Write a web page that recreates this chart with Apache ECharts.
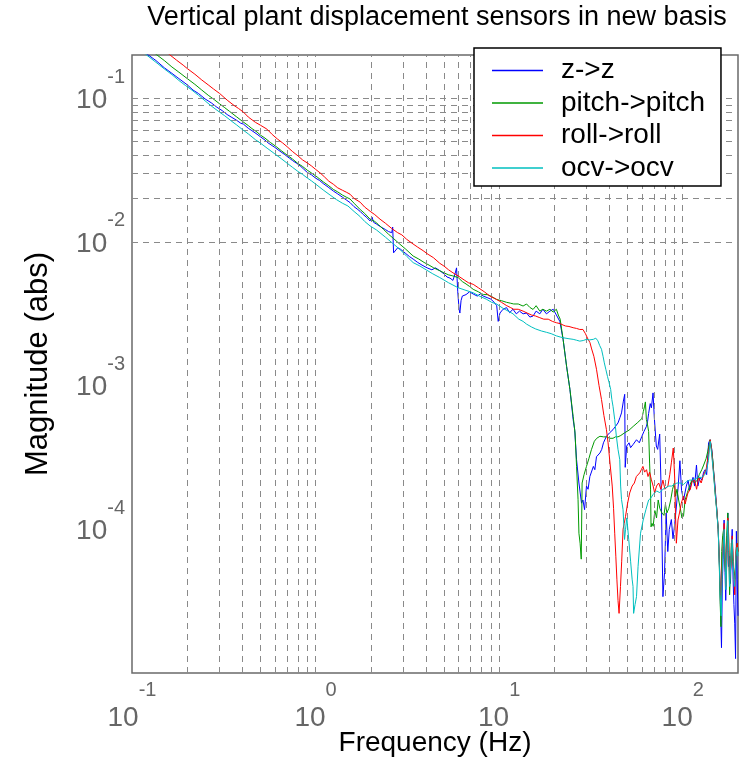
<!DOCTYPE html>
<html>
<head>
<meta charset="utf-8">
<script src="https://cdn.jsdelivr.net/npm/echarts@6/dist/echarts.min.js"></script>
<style>
  html, body { margin: 0; padding: 0; background: #fff; }
  #chart { width: 749px; height: 776px; }
</style>
</head>
<body>
<div id="chart"></div>
<script>
// Vertical plant displacement sensors: diagonal transfer magnitudes, [frequency Hz, |H|]
const seriesNames = ['z->z', 'pitch->pitch', 'roll->roll', 'ocv->ocv'];

const zToZ = [[0.1,0.247],[0.12,0.204],[0.135,0.183],[0.15,0.163],[0.165,0.149],[0.18,0.137],[0.2,0.124],[0.215,0.114],[0.23,0.108],[0.25,0.099],[0.27,0.093],[0.29,0.0866],[0.31,0.082],[0.33,0.077],[0.35,0.0735],[0.37,0.0705],[0.39,0.0672],[0.405,0.066],[0.43,0.0618],[0.45,0.0595],[0.48,0.0562],[0.5,0.054],[0.53,0.0512],[0.55,0.049],[0.58,0.0468],[0.6,0.0455],[0.64,0.0428],[0.68,0.0405],[0.72,0.0383],[0.75,0.0368],[0.79,0.0352],[0.823,0.0339],[0.86,0.0322],[0.9,0.0305],[0.95,0.0293],[1.0,0.0278],[1.05,0.0268],[1.1,0.0255],[1.17,0.0241],[1.25,0.0226],[1.32,0.0216],[1.4,0.0205],[1.47,0.0196],[1.54,0.0188],[1.62,0.0176],[1.7,0.0168],[1.75,0.0163],[1.82,0.0155],[1.9,0.0148],[1.98,0.0140],[2.03,0.0149],[2.07,0.0137],[2.15,0.0133],[2.25,0.0128],[2.4,0.0122],[2.5,0.0118],[2.6,0.0116],[2.63,0.0127],[2.66,0.0084],[2.7,0.0083],[2.8,0.0091],[2.9,0.0089],[3.0,0.0086],[3.1,0.0083],[3.25,0.0079],[3.4,0.0076],[3.6,0.0072],[3.8,0.0069],[4.05,0.0066],[4.3,0.0064],[4.5,0.0066],[4.76,0.0063],[5.0,0.006],[5.2,0.0057],[5.4,0.0056],[5.6,0.0054],[5.75,0.0060],[5.86,0.0066],[5.95,0.0045],[6.05,0.0034],[6.11,0.0032],[6.2,0.0039],[6.3,0.0042],[6.6,0.0043],[6.9,0.0045],[7.22,0.00434],[7.6,0.0042],[7.9,0.00435],[8.18,0.0042],[8.6,0.0041],[9.0,0.0040],[9.4,0.0038],[9.7,0.0036],[9.88,0.0028],[10.1,0.0032],[10.5,0.0034],[10.97,0.00349],[11.4,0.00322],[11.9,0.0034],[12.4,0.00316],[12.9,0.0033],[13.5,0.00316],[14.1,0.0032],[14.7,0.003],[15.3,0.00305],[15.9,0.0033],[16.65,0.00316],[17.3,0.0034],[18.1,0.00316],[18.9,0.0033],[19.7,0.0034],[20.5,0.0031],[21.0,0.0032],[21.4,0.0028],[22.3,0.0021],[23.3,0.00136],[24.3,0.00094],[25.3,0.00058],[25.8,0.00049],[26.4,0.000305],[27.2,0.00021],[28.1,0.000152],[28.6,0.00016],[29.2,0.000137],[29.9,0.0002],[30.5,0.00019],[31.2,0.000233],[32.6,0.000274],[33.2,0.00026],[33.9,0.00032],[35.4,0.00034],[36.2,0.00036],[37,0.0004],[38.4,0.000444],[39.2,0.00043],[40,0.00047],[41.7,0.000494],[43,0.00052],[44.4,0.00055],[45.5,0.0006],[46.4,0.000646],[47.5,0.00078],[48.3,0.00087],[48.6,0.00027],[49.5,0.00038],[51,0.0004],[52,0.00037],[53.7,0.00039],[56,0.00042],[58,0.0004],[59.9,0.000444],[61.5,0.00048],[63.4,0.00052],[64.3,0.00056],[65.2,0.00064],[66.5,0.00075],[67.5,0.0007],[68.9,0.00089],[70,0.0006],[71.8,0.00038],[73,0.00036],[74.9,0.00046],[76.3,0.000187],[78,0.000034],[79.6,0.00005],[81.2,0.00013],[82.9,0.00007],[84.5,0.0001],[86.7,0.000117],[88.5,0.000086],[90.5,0.00011],[92.3,0.000143],[94.5,0.0002],[96.5,0.0003],[98.5,0.000187],[101,0.00016],[104.6,0.0002],[107,0.00022],[109,0.000187],[111.5,0.00021],[113.8,0.00023],[116,0.0002],[118.8,0.00028],[120.9,0.0002],[124,0.00023],[127,0.00022],[130,0.00025],[132.6,0.00026],[135,0.00024],[138.3,0.0004],[141,0.00042],[144,0.00036],[147,0.00026],[149,0.00022],[152.5,0.00015],[156,0.0001],[159,0.000049],[161,0.000025],[162.6,0.000015],[164.5,0.000045],[166,0.000062],[168,0.000116],[170,0.00005],[171.5,0.000032],[173.5,0.00006],[176,0.00013],[178,0.000055],[180,0.000065],[182,0.000042],[184,0.000074],[186,0.0001],[188,0.000045],[190,0.00003],[192,0.000022],[194,0.0000126],[196,0.000097],[198,0.000045],[200,0.000025]];

const pitchToPitch = [[0.1,0.272],[0.115,0.236],[0.134,0.204],[0.15,0.183],[0.165,0.165],[0.18,0.152],[0.2,0.137],[0.22,0.125],[0.24,0.114],[0.26,0.105],[0.28,0.098],[0.3,0.0915],[0.32,0.086],[0.34,0.081],[0.37,0.0745],[0.4,0.069],[0.43,0.0645],[0.45,0.0615],[0.48,0.0582],[0.5,0.0555],[0.53,0.0528],[0.57,0.049],[0.61,0.0461],[0.65,0.0432],[0.7,0.0402],[0.75,0.0377],[0.8,0.0352],[0.85,0.0335],[0.9,0.0316],[0.95,0.0302],[1.02,0.0283],[1.1,0.0262],[1.17,0.0248],[1.25,0.0232],[1.32,0.0223],[1.4,0.0212],[1.47,0.0205],[1.54,0.0199],[1.62,0.0186],[1.75,0.0168],[1.85,0.0158],[1.98,0.0144],[2.1,0.0139],[2.2,0.0132],[2.35,0.0122],[2.5,0.0113],[2.65,0.0106],[2.88,0.00964],[3.1,0.0089],[3.4,0.00798],[3.65,0.0076],[3.9,0.0072],[4.15,0.0069],[4.4,0.0066],[4.75,0.0063],[5.0,0.0061],[5.3,0.0059],[5.6,0.0058],[5.98,0.00565],[6.3,0.0053],[6.6,0.0051],[6.9,0.0049],[7.22,0.00468],[7.7,0.0045],[8.2,0.0043],[8.6,0.0043],[9.0,0.0042],[9.68,0.00398],[10.3,0.0039],[10.97,0.0038],[11.5,0.00375],[12,0.0037],[12.7,0.0037],[13.5,0.00358],[14.1,0.0037],[14.7,0.0035],[15.3,0.00339],[15.9,0.0036],[16.65,0.0033],[17.3,0.0034],[18.1,0.0033],[18.9,0.0034],[19.7,0.00325],[20.5,0.0034],[21.0,0.0031],[21.5,0.0029],[22.3,0.0021],[23.3,0.00136],[24.3,0.00094],[25.3,0.00061],[25.9,0.000468],[26.4,0.000274],[26.9,0.000161],[27.2,0.000094],[27.6,0.00008],[28.0,0.000062],[28.3,0.00021],[29,0.00024],[29.9,0.000274],[30.8,0.00031],[31.8,0.000358],[33,0.00041],[34,0.00043],[35.4,0.000444],[37,0.00044],[38.4,0.00044],[40,0.00043],[41.7,0.00043],[43,0.00044],[44.4,0.00044],[46,0.00045],[48.3,0.00047],[51,0.00049],[53.7,0.00052],[56.5,0.00055],[59.9,0.00059],[61,0.00066],[62,0.00072],[62.6,0.00077],[63.4,0.00058],[64.2,0.00054],[65.2,0.00048],[66,0.000289],[66.8,0.000188],[67.2,0.000104],[68,0.00011],[69,0.000105],[70.5,0.000135],[72,0.00012],[73.5,0.00016],[75,0.00014],[77,0.00013],[79,0.000125],[80.5,0.00015],[82,0.00013],[84,0.00014],[86,0.00016],[88,0.00019],[90,0.00021],[91.5,0.00017],[93,0.00019],[95,0.00016],[97,0.00014],[99,0.00012],[101,0.000124],[103,0.00016],[106,0.00018],[109,0.0002],[112,0.00022],[116,0.00021],[120,0.00022],[123,0.00024],[127,0.00026],[130,0.00028],[134,0.00031],[137,0.00035],[141,0.00042],[143.5,0.00036],[146,0.0003],[150,0.00018],[153,0.00014],[156,0.0001],[158,0.00006],[160,0.00003],[161.5,0.000021],[163,0.00007],[165,0.00009],[167,0.0001],[169,0.00006],[171,0.00005],[173.5,0.00009],[176,0.00013],[178,0.00008],[180,0.000035],[182,0.00005],[184,0.00008],[187,0.00006],[190,0.00006],[193,0.000045],[196,0.000075],[198,0.00008],[200,0.00007]];

const rollToRoll = [[0.1,0.32],[0.12,0.268],[0.14,0.23],[0.158,0.204],[0.175,0.184],[0.19,0.17],[0.2,0.161],[0.22,0.147],[0.24,0.134],[0.26,0.124],[0.278,0.116],[0.3,0.108],[0.33,0.097],[0.36,0.089],[0.38,0.085],[0.405,0.080],[0.43,0.074],[0.47,0.068],[0.5,0.065],[0.543,0.061],[0.58,0.056],[0.62,0.052],[0.66,0.049],[0.7,0.046],[0.75,0.0425],[0.8,0.0398],[0.85,0.0372],[0.9,0.0355],[0.95,0.0338],[1.0,0.032],[1.06,0.0302],[1.12,0.0283],[1.18,0.0265],[1.25,0.0252],[1.32,0.0238],[1.4,0.0229],[1.47,0.0222],[1.54,0.0215],[1.62,0.0201],[1.75,0.0189],[1.85,0.0175],[2.0,0.0162],[2.1,0.0155],[2.244,0.0144],[2.4,0.0135],[2.6,0.0124],[2.8,0.0116],[2.95,0.0112],[3.13,0.01045],[3.35,0.0098],[3.6,0.0092],[3.85,0.0087],[4.1,0.0082],[4.38,0.00778],[4.75,0.0071],[5.0,0.0068],[5.3,0.0064],[5.6,0.0061],[5.98,0.0058],[6.5,0.0054],[6.8,0.0052],[7.22,0.00507],[7.7,0.0048],[8.3,0.0045],[8.9,0.0042],[9.68,0.00398],[10.3,0.0038],[11,0.0036],[11.5,0.0035],[12,0.0034],[12.7,0.0034],[13.5,0.0033],[14.2,0.0032],[15,0.0031],[15.8,0.00305],[16.65,0.00297],[17.5,0.0029],[18.5,0.0029],[19.5,0.0028],[20.5,0.00274],[21.5,0.0027],[22.3,0.00264],[23,0.0026],[24,0.00258],[25.3,0.00253],[26.4,0.0025],[27.5,0.00246],[28.6,0.00246],[29.5,0.0023],[30.5,0.0021],[31.2,0.002],[31.9,0.0018],[32.8,0.0016],[33.9,0.0013],[35,0.001],[36.1,0.0008],[37.2,0.00062],[38.4,0.000494],[39.2,0.0004],[40,0.000305],[41.3,0.0002],[42,0.00014],[42.6,0.000094],[43.2,0.000065],[43.8,0.0000445],[44.4,0.000032],[45,0.000026],[45.8,0.00004],[46.5,0.00006],[47.3,0.0001],[48,0.00011],[48.8,0.000123],[50,0.00015],[51.4,0.000179],[53,0.0002],[54.5,0.00021],[55.9,0.000233],[57,0.00023],[58.3,0.000247],[59.5,0.00026],[60.7,0.000274],[62,0.00025],[63.5,0.00026],[64.7,0.000233],[66,0.00025],[67.5,0.000221],[69,0.0002],[70.3,0.000179],[72,0.0002],[74,0.00021],[76,0.00019],[78,0.00022],[80,0.00019],[83,0.0002],[85,0.00024],[86.7,0.00029],[88.8,0.000368],[89.5,0.0003],[90.5,0.00022],[91.3,0.00013],[92.3,0.00008],[94.2,0.000116],[96,0.00013],[98.2,0.000152],[101,0.00017],[103,0.00015],[106.7,0.000179],[110,0.00019],[113,0.00022],[116,0.00022],[119,0.00019],[122,0.00023],[126,0.00021],[130,0.00024],[134,0.00026],[138,0.00033],[141,0.00042],[143.5,0.00036],[146,0.00028],[150,0.00019],[153,0.00014],[156,0.0001],[158,0.000065],[160,0.00004],[162,0.00003],[164,0.00006],[166,0.00008],[168,0.00011],[170,0.00007],[172,0.00004],[174,0.00006],[176,0.00012],[178,0.00009],[180,0.000045],[183,0.000055],[186,0.00009],[189,0.00006],[192,0.000035],[195,0.00007],[198,0.00008],[200,0.00007]];

const ocvToOcv = [[0.1,0.24],[0.12,0.2],[0.135,0.178],[0.15,0.16],[0.165,0.146],[0.18,0.133],[0.195,0.123],[0.21,0.115],[0.23,0.105],[0.25,0.096],[0.27,0.0885],[0.3,0.080],[0.32,0.0755],[0.35,0.069],[0.37,0.0655],[0.4,0.0605],[0.43,0.0565],[0.47,0.0515],[0.5,0.0488],[0.55,0.0445],[0.6,0.041],[0.65,0.038],[0.7,0.0353],[0.75,0.033],[0.8,0.031],[0.85,0.0295],[0.9,0.0279],[0.95,0.0266],[1.0,0.0253],[1.1,0.023],[1.2,0.0212],[1.3,0.0197],[1.4,0.0186],[1.5,0.0178],[1.62,0.0163],[1.75,0.0150],[1.85,0.0139],[1.98,0.01293],[2.15,0.0121],[2.4,0.0108],[2.65,0.0097],[2.9,0.0088],[3.15,0.0079],[3.4,0.00718],[3.7,0.0068],[4.0,0.0064],[4.35,0.006],[4.75,0.00565],[5.3,0.0052],[5.98,0.0048],[6.6,0.0046],[7.22,0.00443],[7.8,0.0042],[8.5,0.0040],[9.1,0.0038],[9.68,0.0037],[10.5,0.00345],[11.2,0.0033],[11.9,0.00316],[12.8,0.0029],[13.5,0.0028],[14.1,0.00268],[15,0.00256],[15.8,0.00248],[17,0.0024],[18.1,0.00235],[19.2,0.0023],[20.5,0.00222],[21.5,0.00218],[22.5,0.00215],[24,0.00212],[25.3,0.0021],[26.4,0.00207],[27.5,0.00204],[28.7,0.00206],[29.9,0.0021],[31,0.00208],[32.6,0.0021],[33.6,0.00214],[34.5,0.00205],[35.3,0.0019],[36.1,0.00179],[36.8,0.0016],[37.4,0.00144],[38.1,0.0013],[38.9,0.00116],[39.7,0.00105],[40.5,0.00094],[41.1,0.0008],[41.7,0.000718],[42.6,0.00058],[43.5,0.000444],[44.4,0.00036],[45.4,0.000305],[45.9,0.0002],[46.4,0.000161],[47.3,0.000137],[48.2,0.000085],[48.8,0.0001],[49.6,0.00012],[50.8,0.000085],[52,0.00006],[53,0.000045],[53.6,0.00004],[54,0.000026],[55,0.00003],[56,0.000034],[57.1,0.000055],[58.9,0.000094],[60.9,0.000116],[63,0.000137],[65.2,0.00016],[67,0.000165],[69,0.000175],[72,0.000185],[75,0.00018],[78,0.00019],[81,0.000195],[84,0.0002],[87,0.0002],[90,0.000205],[93,0.00021],[97,0.00021],[101,0.000205],[105,0.000215],[109,0.00022],[113,0.00022],[117,0.000225],[122,0.00023],[127,0.00023],[132,0.00024],[135,0.00026],[138,0.0003],[141,0.00041],[143.5,0.00034],[146,0.00027],[149,0.0002],[152,0.00015],[156,0.0001],[158,0.00006],[160,0.000035],[162,0.000025],[164,0.00005],[166,0.000075],[168,0.0001],[170,0.00006],[172,0.000038],[174,0.00007],[176,0.000115],[178,0.00007],[180,0.00004],[183,0.00006],[186,0.000085],[189,0.00005],[192,0.00004],[195,0.000065],[198,0.000075],[200,0.000065]];

const seriesData = [zToZ, pitchToPitch, rollToRoll, ocvToOcv];
const seriesColors = ['#0000ff', '#009a00', '#ff0000', '#00bfbf'];

// Log-grid positions: mantissas 1..9 in every decade inside the axes
const xDecades = [-1, 0, 1, 2];
const yDecades = [-5, -4, -3, -2, -1];
const mantissas = [1, 2, 3, 4, 5, 6, 7, 8, 9];

const X_MIN = 0.1, X_MAX = 200, Y_MIN = 1e-5, Y_MAX = 0.2;
const gridX = [], gridY = [];
xDecades.forEach(d => mantissas.forEach(m => {
  const v = m * Math.pow(10, d);
  if (v > X_MIN * 1.0001 && v < X_MAX * 0.9999) gridX.push(v);
}));
yDecades.forEach(d => mantissas.forEach(m => {
  const v = m * Math.pow(10, d);
  if (v > Y_MIN * 1.0001 && v < Y_MAX * 0.9999) gridY.push(v);
}));

const FONT = '"Liberation Sans", Arial, Helvetica, sans-serif';

function powerLabel(lo, hi) {
  return function (v) {
    const e = Math.log10(v);
    const r = Math.round(e);
    if (Math.abs(e - r) > 1e-6 || r < lo || r > hi) return '';
    return '{b|10}{s|' + r + '}';
  };
}
function powerRich(lineH) {
  return {
    b: { fontFamily: FONT, fontSize: 28, color: '#666', lineHeight: lineH, verticalAlign: 'bottom' },
    s: { fontFamily: FONT, fontSize: 20, color: '#666', verticalAlign: 'top' }
  };
}

const chart = echarts.init(document.getElementById('chart'), null, { renderer: 'canvas' });

const series = seriesNames.map((name, i) => ({
  name: name,
  type: 'line',
  data: seriesData[i],
  color: seriesColors[i],
  showSymbol: false,
  symbol: 'none',
  clip: true,
  z: 3 + i,
  lineStyle: { width: 1, color: seriesColors[i] },
  emphasis: { disabled: true }
}));

// dashed log grid drawn through the axes
series.unshift({
  name: 'grid',
  type: 'line',
  data: [[1, 1e-3]],
  showSymbol: false,
  symbol: 'none',
  lineStyle: { opacity: 0 },
  silent: true,
  z: 1,
  markLine: {
    silent: true,
    animation: false,
    symbol: ['none', 'none'],
    label: { show: false },
    lineStyle: { color: '#8a8a8a', type: [6, 5], width: 1 },
    emphasis: { disabled: true },
    data: gridX.map(v => ({ xAxis: v })).concat(gridY.map(v => ({ yAxis: v })))
  }
});

chart.setOption({
  animation: false,
  backgroundColor: '#fff',
  graphic: [{
    type: 'text',
    x: 437,
    y: 4,
    style: {
      text: 'Vertical plant displacement sensors in new basis',
      fontFamily: FONT,
      fontSize: 27,
      fill: '#000',
      align: 'center',
      textAlign: 'center',
      verticalAlign: 'top'
    }
  }],
  grid: {
    left: 132, right: 11, top: 55, bottom: 103,
    show: true, borderColor: '#6a6a6a', borderWidth: 1.5, backgroundColor: 'transparent'
  },
  legend: {
    data: seriesNames,
    orient: 'vertical',
    left: 474,
    top: 48,
    icon: 'rect',
    itemWidth: 51,
    itemHeight: 1.5,
    itemGap: 0.5,
    padding: [6.5, 16, 2, 18],
    backgroundColor: '#fff',
    borderColor: '#000',
    borderWidth: 1.5,
    z: 10,
    textStyle: { fontFamily: FONT, fontSize: 28, color: '#000', lineHeight: 32, padding: [0, 0, 0, 13] }
  },
  xAxis: {
    type: 'log',
    logBase: 10,
    min: X_MIN,
    max: X_MAX,
    name: 'Frequency (Hz)',
    nameLocation: 'middle',
    nameGap: 56,
    nameMoveOverlap: false,
    nameTextStyle: { fontFamily: FONT, fontSize: 28, color: '#000' },
    axisLine: { show: false },
    axisTick: { show: false },
    splitLine: { show: false },
    axisLabel: { formatter: powerLabel(-1, 2), rich: powerRich(52), margin: 7, showMinLabel: true, showMaxLabel: true }
  },
  yAxis: {
    type: 'log',
    logBase: 10,
    min: Y_MIN,
    max: Y_MAX,
    name: 'Magnitude (abs)',
    nameLocation: 'middle',
    nameGap: 78,
    nameTextStyle: { fontFamily: FONT, fontSize: 31, color: '#000' },
    axisLine: { show: false },
    axisTick: { show: false },
    splitLine: { show: false },
    axisLabel: { formatter: powerLabel(-4, -1), rich: powerRich(47), margin: 7, padding: [0, 0, 15, 0] }
  },
  series: series
});
</script>
</body>
</html>
